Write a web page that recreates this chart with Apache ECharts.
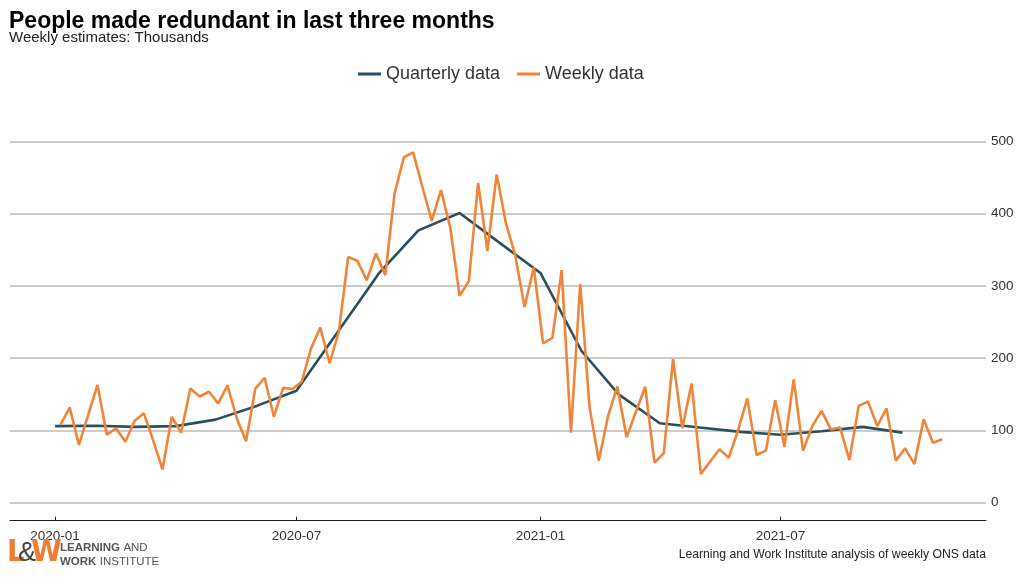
<!DOCTYPE html>
<html>
<head>
<meta charset="utf-8">
<script src="https://cdn.jsdelivr.net/npm/echarts@6/dist/echarts.min.js"></script>
<style>
html,body{margin:0;padding:0;background:#fff;}
#chart{width:1023px;height:587px;}
</style>
</head>
<body>
<div id="chart"></div>
<script>
// ---- data ----
const quarterlyDates = ['2020-01-01','2020-02-01','2020-03-01','2020-04-01','2020-05-01','2020-06-01','2020-07-01','2020-08-01','2020-09-01','2020-10-01','2020-11-01','2020-12-01','2021-01-01','2021-02-01','2021-03-01','2021-04-01','2021-05-01','2021-06-01','2021-07-01','2021-08-01','2021-09-01','2021-10-01'];
const quarterlyValues = [106,106.5,105,106,115,134,155,236,317,377,401,360,318,210,150,110,104,98,94,99,105,97];

const weeklyStart = '2020-01-05';
const weeklyValues = [107.5,132,80,122,163,94,103,84.5,113.5,123.7,86,46,119,97,158,147,153.6,137.5,162.5,117,85,158,173,119,159,157.5,167.5,213.6,242.5,193,237,340,335,308,345,315,428,478,485,437,390,432.7,381,286.5,306.5,442.5,348.5,454.4,386.6,342.7,271,326,220.5,228,322,97,303,133,58,120,161,90.5,126,160.5,55.4,68.4,198.8,103,165,39.7,57,74,62,100,144.4,66,72,142,77.5,170.7,72,106,127,101.5,104,59,134,140,106,130.6,58,75.3,53.5,115.4,83,87.7];

const xTickLabels = ['2020-01-01','2020-07-01','2021-01-01','2021-07-01'];

// ---- build ----
const DAY = 86400000;
const t0 = Date.parse(weeklyStart + 'T00:00:00Z');
const weeklyData = weeklyValues.map((v,i)=>[t0 + i*7*DAY, v]);
const quarterlyData = quarterlyDates.map((d,i)=>[Date.parse(d+'T00:00:00Z'), quarterlyValues[i]]);
const xTickVals = xTickLabels.map(d=>Date.parse(d+'T00:00:00Z'));

const chart = echarts.init(document.getElementById('chart'));
const fam = '"Liberation Sans", Arial, Helvetica, sans-serif';
chart.setOption({
  animation:false,
  textStyle:{fontFamily:fam},
  title:{
    text:'People made redundant in last three months',
    subtext:'Weekly estimates: Thousands',
    left:9, top:10, itemGap:-3, padding:0,
    textStyle:{fontSize:23,fontWeight:'bold',color:'#000',fontFamily:fam},
    subtextStyle:{fontSize:15,color:'#222',fontFamily:fam}
  },
  legend:{
    data:[{name:'Quarterly data',icon:'rect'},{name:'Weekly data',icon:'rect'}],
    left:353, top:60,
    itemWidth:23, itemHeight:3, itemGap:17,
    textStyle:{fontSize:18,color:'#333',fontFamily:fam}
  },
  grid:{left:10,right:37,top:141.5,bottom:84.3,containLabel:false},
  xAxis:{
    type:'value',
    min:Date.parse('2019-11-28T00:00:00Z'),
    max:Date.parse('2021-12-03T00:00:00Z'),
    offset:18,
    axisLine:{show:true,onZero:false,lineStyle:{color:'#222',width:1.2}},
    axisTick:{show:true,inside:true,length:4,lineStyle:{color:'#222'},customValues:xTickVals},
    axisLabel:{
      customValues:xTickVals,
      fontSize:13.5,color:'#333',margin:9,fontFamily:fam,
      formatter:function(v){const d=new Date(v);return d.getUTCFullYear()+'-'+String(d.getUTCMonth()+1).padStart(2,'0');}
    },
    splitLine:{show:false}
  },
  yAxis:{
    type:'value',position:'right',min:0,max:500,interval:100,
    axisLine:{show:false},axisTick:{show:false},
    axisLabel:{fontSize:13.5,color:'#333',margin:5,fontFamily:fam},
    splitLine:{show:true,lineStyle:{color:'#cccccc',width:2}}
  },
  series:[
    {name:'Quarterly data',type:'line',data:quarterlyData,symbol:'none',
     lineStyle:{color:'#2b4f5c',width:2.6},itemStyle:{color:'#2b4f5c'},z:2},
    {name:'Weekly data',type:'line',data:weeklyData,symbol:'none',
     lineStyle:{color:'#f08539',width:2.6},itemStyle:{color:'#f08539'},z:3}
  ],
  graphic:[
    {type:'text',left:7,top:537,z:100,style:{text:'L',fontSize:31,fontWeight:'bold',fill:'#ef7d32',fontFamily:'"Liberation Sans Narrow","DejaVu Sans Condensed",sans-serif'}},
    {type:'text',left:31,top:537,z:100,style:{text:'W',fontSize:31,fontWeight:'bold',fill:'#ef7d32',fontFamily:'"Liberation Sans Narrow","DejaVu Sans Condensed",sans-serif'}},
    {type:'text',left:18,top:540,z:101,style:{text:'&',fontSize:27,fill:'#444',fontFamily:'"Liberation Sans Narrow",sans-serif'}},
    {type:'text',left:60,top:541,z:100,style:{
      text:'{b|LEARNING} {n|AND}\n{b|WORK} {n|INSTITUTE}',
      lineHeight:14,
      rich:{b:{fontSize:11.5,fontWeight:'bold',fill:'#555',color:'#555',fontFamily:fam,lineHeight:14},
            n:{fontSize:11.5,fill:'#555',color:'#555',fontFamily:fam,lineHeight:14}}
    }},
    {type:'text',right:37,top:549,z:100,style:{text:'Learning and Work Institute analysis of weekly ONS data',fontSize:12.2,fill:'#222',fontFamily:fam}}
  ]
});
</script>
</body>
</html>
